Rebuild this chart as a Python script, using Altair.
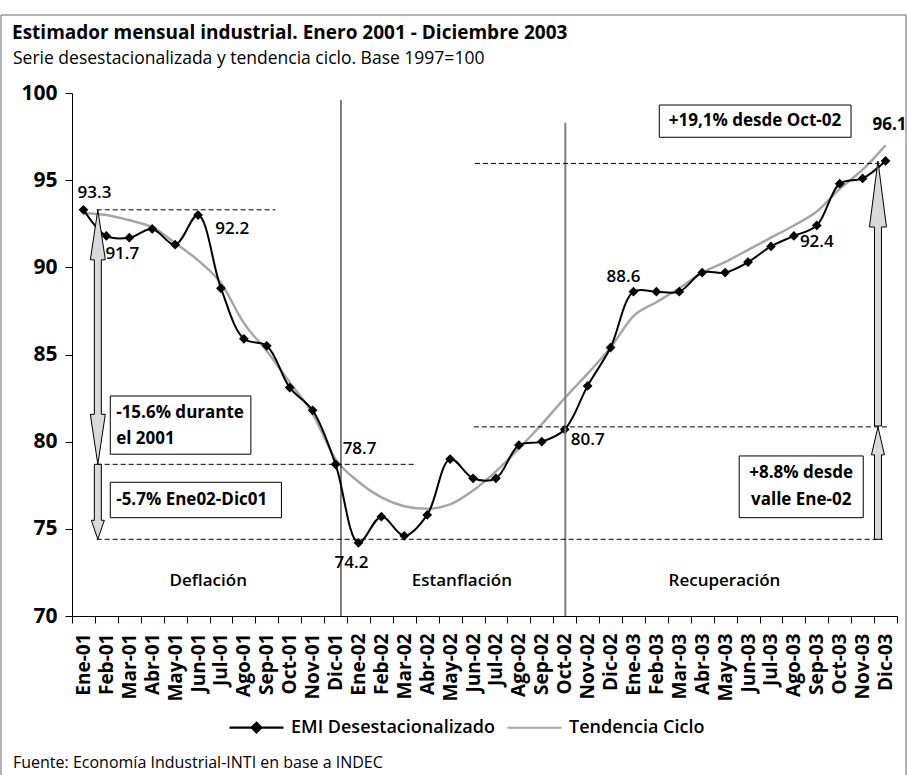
import altair as alt
import pandas as pd

# --- Datos -----------------------------------------------------------------
meses = [
    "Ene-01", "Feb-01", "Mar-01", "Abr-01", "May-01", "Jun-01",
    "Jul-01", "Ago-01", "Sep-01", "Oct-01", "Nov-01", "Dic-01",
    "Ene-02", "Feb-02", "Mar-02", "Abr-02", "May-02", "Jun-02",
    "Jul-02", "Ago-02", "Sep-02", "Oct-02", "Nov-02", "Dic-02",
    "Ene-03", "Feb-03", "Mar-03", "Abr-03", "May-03", "Jun-03",
    "Jul-03", "Ago-03", "Sep-03", "Oct-03", "Nov-03", "Dic-03",
]

emi = [
    93.3, 91.8, 91.7, 92.2, 91.3, 93.0, 88.8, 85.9, 85.5, 83.1, 81.8, 78.7,
    74.2, 75.7, 74.6, 75.8, 79.0, 77.9, 77.9, 79.8, 80.0, 80.7, 83.2, 85.4,
    88.6, 88.6, 88.6, 89.7, 89.7, 90.3, 91.2, 91.8, 92.4, 94.8, 95.1, 96.1,
]

tendencia = [
    93.1, 93.0, 92.7, 92.3, 91.4, 90.4, 89.1, 86.8, 85.2, 83.4, 81.6, 79.0,
    77.7, 76.8, 76.3, 76.15, 76.4, 77.2, 78.3, 79.6, 81.0, 82.5, 83.9, 85.4,
    87.2, 88.0, 88.8, 89.7, 90.3, 91.0, 91.7, 92.4, 93.2, 94.5, 95.6, 97.0,
]

series = ["EMI Desestacionalizado", "Tendencia Ciclo"]

# etapas del ciclo (posición en meses desde Ene-01, valor del eje)
etapas = ["Deflación", "Estanflación", "Recuperación"]
etapas_x = [5.8, 17.0, 28.6]
etapas_v = [72.0, 72.0, 72.0]

# cuadros de texto: (x inicio, x fin, valor superior, valor inferior)
cuadros_x = [1.47, 1.47, 25.72, 29.25]
cuadros_x2 = [7.68, 9.03, 34.19, 34.73]
cuadros_v = [82.62, 77.67, 99.31, 79.18]
cuadros_v2 = [79.28, 75.64, 97.46, 75.64]

textos_izq = ["-15.6% durante", "el 2001", "-5.7% Ene02-Dic01"]
textos_izq_x = [1.73, 1.73, 1.73]
textos_izq_v = [81.65, 80.18, 76.64]

textos_cen = ["+19,1% desde Oct-02", "+8.8% desde", "valle Ene-02"]
textos_cen_x = [29.95, 31.99, 31.99]
textos_cen_v = [98.38, 78.2, 76.64]

# líneas de referencia punteadas
guias_x = [0.87, 0.87, 0.87, 17.53, 17.58]
guias_x2 = [8.77, 14.88, 35.59, 35.8, 35.46]
guias_v = [93.3, 78.7, 74.4, 80.85, 95.96]

# divisiones verticales entre etapas
cortes_x = [11.66, 21.57]
cortes_v2 = [99.6, 98.3]
cortes_color = ["black", "#7f7f7f"]
cortes_ancho = [1.0, 2.0]

FUENTE = "Open Sans"
GRIS_TEND = "#a6a6a6"
GRIS_FLECHA = "#d9d9d9"

# --- Escalas y codificaciones compartidas ------------------------------------
esc_y = alt.Scale(domain=[70, 100], nice=False, zero=False)
x_mes = alt.X(
    "mes:N",
    sort=meses,
    scale=alt.Scale(type="band", domain=meses, paddingInner=0, paddingOuter=0),
    axis=alt.Axis(title=None, tickBand="extent"),
)
y_v = alt.Y(
    "v:Q",
    scale=esc_y,
    axis=alt.Axis(title=None, values=[70, 75, 80, 85, 90, 95, 100], grid=False),
)
esc_x = alt.Scale(domain=[0, 36], nice=False, zero=False)
x_a = alt.X("x:Q", scale=esc_x, axis=None)
x2_a = alt.X2("x2:Q")

df_emi = pd.DataFrame({"mes": meses, "v": emi})
df_tend = pd.DataFrame({"mes": meses, "v": tendencia})

linea_tend = alt.Chart(df_tend).mark_line(
    color=GRIS_TEND, strokeWidth=2.5, interpolate="monotone"
).encode(x=x_mes, y=y_v)

linea_emi = alt.Chart(df_emi).mark_line(
    color="black", strokeWidth=2, interpolate="catmull-rom"
).encode(x=x_mes, y=y_v)

puntos_emi = alt.Chart(df_emi).mark_point(
    shape="diamond", size=95, filled=True, color="black", opacity=1
).encode(x=x_mes, y=y_v)

# leyenda: símbolos de línea (con rombo para la serie EMI)
ruta_emi = "M-1,0H1M0,-0.18L0.18,0L0,0.18L-0.18,0Z"
ruta_tend = "M-1,0H1"
ley = alt.Legend(
    title=None, orient="none", legendX=156, legendY=606, direction="horizontal",
    symbolSize=2916, symbolStrokeWidth=2.2, symbolOpacity=1,
    labelFont=FUENTE, labelFontSize=18, labelFontWeight=600, labelColor="black",
    labelLimit=0, labelOffset=6, columnPadding=8, padding=0,
)
df_ley = pd.DataFrame({"mes": [meses[0], meses[0]], "v": [90, 90], "serie": series})
leyenda = alt.Chart(df_ley).mark_point(opacity=0).encode(
    x=x_mes, y=y_v,
    shape=alt.Shape("serie:N", scale=alt.Scale(domain=series, range=[ruta_emi, ruta_tend]), legend=ley),
    stroke=alt.Stroke("serie:N", scale=alt.Scale(domain=series, range=["black", GRIS_TEND]), legend=ley),
    fill=alt.Fill("serie:N", scale=alt.Scale(domain=series, range=["black", GRIS_TEND]), legend=ley),
)


def etiqueta(i, dx, dy, peso=600):
    df = pd.DataFrame({"mes": [meses[i]], "v": [emi[i]], "texto": [f"{emi[i]:.1f}"]})
    return alt.Chart(df).mark_text(
        font=FUENTE, fontSize=17, fontWeight=peso, color="black",
        dx=dx, dy=dy, align="center", baseline="middle",
    ).encode(x=x_mes, y=y_v, text="texto:N")


etiquetas = [
    etiqueta(0, 11, -17),
    etiqueta(2, -7, 16),
    etiqueta(3, 80, 0),
    etiqueta(11, 24, -15),
    etiqueta(12, -7, 20),
    etiqueta(21, 23, 11),
    etiqueta(24, -10, -15),
    etiqueta(32, 0, 17),
    etiqueta(35, 4, -36, "bold"),
]

principal = alt.layer(linea_tend, linea_emi, puntos_emi, leyenda, *etiquetas)

# --- Anotaciones -------------------------------------------------------------
df_cortes = pd.DataFrame({
    "x": cortes_x, "v": [70, 70], "v2": cortes_v2,
    "color": cortes_color, "ancho": cortes_ancho,
})
cortes = alt.Chart(df_cortes).mark_rule().encode(
    x=x_a, y=y_v, y2="v2:Q",
    color=alt.Color("color:N", scale=None),
    strokeWidth=alt.StrokeWidth("ancho:Q", scale=None),
)

df_guias = pd.DataFrame({"x": guias_x, "x2": guias_x2, "v": guias_v})
guias = alt.Chart(df_guias).mark_rule(
    color="black", strokeWidth=1, strokeDash=[5, 3]
).encode(x=x_a, x2=x2_a, y=y_v)


def flecha(x, desde, hasta, alto, ancho, grosor, doble=False):
    """Flecha de bloque: cuerpo rectangular y punta(s) triangular(es)."""
    sube = hasta > desde
    s = 1 if sube else -1
    off = s * (alto - 1.5)
    df = pd.DataFrame({"x": [x], "v": [desde], "v2": [hasta]})
    cuerpo = alt.Chart(df).mark_bar(
        size=grosor, fill=GRIS_FLECHA, stroke="black", strokeWidth=1,
        y2Offset=off, yOffset=(-off if doble else 0),
    ).encode(x=x_a, y=y_v, y2="v2:Q")

    def punta(valor, hacia_arriba):
        k = 1 if hacia_arriba else -1
        h = alto * k
        ruta = (f"M{-grosor / 2},{h}L{-ancho / 2},{h}L0,0"
                f"L{ancho / 2},{h}L{grosor / 2},{h}")
        return alt.Chart(pd.DataFrame({"x": [x], "v": [valor]})).mark_point(
            shape=ruta, size=4, filled=True, fill=GRIS_FLECHA,
            stroke="black", strokeWidth=1, opacity=1,
        ).encode(x=x_a, y=y_v)

    capas = [cuerpo, punta(hasta, sube)]
    if doble:
        capas.append(punta(desde, not sube))
    return capas


flechas = (
    flecha(0.92, 93.3, 78.7, 50, 15, 7, doble=True)
    + flecha(0.92, 78.7, 74.4, 19, 13, 7)
    + flecha(35.38, 80.9, 96.1, 66, 17, 7)
    + flecha(35.38, 74.4, 80.85, 28, 13, 7)
)

df_cuadros = pd.DataFrame({"x": cuadros_x, "x2": cuadros_x2, "v": cuadros_v, "v2": cuadros_v2})
cuadros = alt.Chart(df_cuadros).mark_rect(
    fill="white", stroke="black", strokeWidth=1
).encode(x=x_a, x2=x2_a, y=y_v, y2="v2:Q")

texto_izq = alt.Chart(pd.DataFrame({"x": textos_izq_x, "v": textos_izq_v, "t": textos_izq})).mark_text(
    font=FUENTE, fontSize=17, fontWeight="bold", align="left", baseline="middle", color="black"
).encode(x=x_a, y=y_v, text="t:N")

texto_cen = alt.Chart(pd.DataFrame({"x": textos_cen_x, "v": textos_cen_v, "t": textos_cen})).mark_text(
    font=FUENTE, fontSize=17, fontWeight="bold", align="center", baseline="middle", color="black"
).encode(x=x_a, y=y_v, text="t:N")

texto_etapas = alt.Chart(pd.DataFrame({"x": etapas_x, "v": etapas_v, "t": etapas})).mark_text(
    font=FUENTE, fontSize=17, fontWeight=600, align="center", baseline="middle", color="black"
).encode(x=x_a, y=y_v, text="t:N")

# marco, títulos y fuente
uno = pd.DataFrame({"t": ["Estimador mensual industrial. Enero 2001 - Diciembre 2003"]})
marco = alt.Chart(uno).mark_rect(fill="transparent", stroke="#666666", strokeWidth=1).encode(
    x=alt.value(-71), x2=alt.value(834), y=alt.value(-78), y2=alt.value(720)
)
titulo = alt.Chart(uno).mark_text(
    font=FUENTE, fontSize=19, fontWeight="bold", align="left", baseline="middle", color="black"
).encode(x=alt.value(-60), y=alt.value(-60), text="t:N")
subtitulo = alt.Chart(pd.DataFrame({"t": ["Serie desestacionalizada y tendencia ciclo. Base 1997=100"]})).mark_text(
    font=FUENTE, fontSize=17.5, align="left", baseline="middle", color="black"
).encode(x=alt.value(-59), y=alt.value(-34), text="t:N")
fuente = alt.Chart(pd.DataFrame({"t": ["Fuente: Economía Industrial-INTI en base a INDEC"]})).mark_text(
    font=FUENTE, fontSize=16, align="left", baseline="middle", color="black"
).encode(x=alt.value(-59), y=alt.value(670), text="t:N")

anotaciones = alt.layer(
    cortes, guias, *flechas, cuadros, texto_izq, texto_cen, texto_etapas,
    marco, titulo, subtitulo, fuente,
)

chart = (
    alt.layer(principal, anotaciones)
    .resolve_scale(x="independent")
    .properties(
        width=825, height=523,
        autosize=alt.AutoSizeParams(type="none"),
        padding={"left": 72, "top": 93, "right": 10, "bottom": 159},
        background="white",
    )
    .configure_view(stroke=None)
    .configure_axis(
        labelFont=FUENTE, labelColor="black", domainColor="black", tickColor="black",
        domainWidth=1, tickWidth=1,
    )
    .configure_axisX(labelFontSize=19, labelFontWeight="bold", tickSize=7, labelPadding=10, labelAngle=-90)
    .configure_axisY(labelFontSize=21, labelFontWeight="bold", tickSize=7, labelPadding=8)
)

chart.save("out.html", embed_options={"renderer": "svg", "actions": False})
